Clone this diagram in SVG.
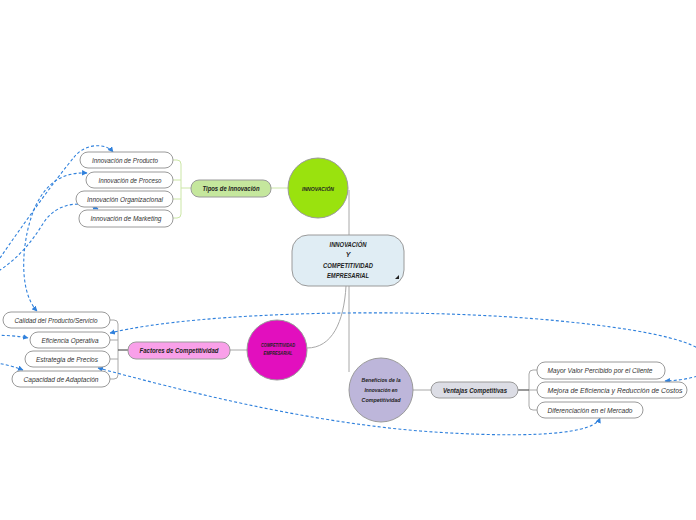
<svg xmlns="http://www.w3.org/2000/svg" width="696" height="520" viewBox="0 0 696 520">
<defs>
<marker id="arr" viewBox="0 0 10 10" refX="9" refY="5" markerWidth="5" markerHeight="5" orient="auto-start-reverse">
<path d="M0,0 L10,5 L0,10 z" fill="#2f80dc"/>
</marker>
<style>
.bg{fill:#ffffff}
.ln{fill:none;stroke:#a8a8a8;stroke-width:1}
.lg{fill:none;stroke:#cbe6a6;stroke-width:1}
.dk{fill:none;stroke:#555555;stroke-width:1.2}
.rel{fill:none;stroke:#2f80dc;stroke-width:1.1;stroke-dasharray:3 2.2;marker-start:url(#arr);marker-end:url(#arr)}
.box{fill:#ffffff;stroke:#9a9a9a;stroke-width:1}
.t{font-family:"Liberation Sans",Arial,sans-serif;font-style:italic;font-size:7px;fill:#333333;text-anchor:middle}
.tb{font-family:"Liberation Sans",Arial,sans-serif;font-style:italic;font-weight:bold;font-size:7px;fill:#222222;text-anchor:middle}
.ts{font-family:"Liberation Sans",Arial,sans-serif;font-style:italic;font-weight:bold;font-size:5px;fill:#222222;text-anchor:middle}
.circ{stroke:#9a9a9a;stroke-width:1}
</style>
</defs>
<rect class="bg" x="0" y="0" width="696" height="520"/>

<g id="connectors">
<path class="ln" d="M349,190 V235"/>
<path class="ln" d="M349,286 V372"/>
<path class="ln" d="M346,286 C344,322 332,348 307,348"/>
<path class="lg" d="M288,188 H271"/>
<path class="ln" d="M247,350 H230"/>
<path class="ln" d="M413,390 H431"/>
<path class="lg" d="M191,188 H181 M173,160 H177 Q181,160 181,164 V214 Q181,218 177,218 H173 M181,180 H173 M181,199 H173"/>
<path class="ln" d="M110,320 H114 Q118,320 118,324 V375 Q118,379 114,379 H110 M118,340 H110 M118,359 H110"/>
<path class="dk" d="M128,350 H118"/>
<path class="ln" d="M537,370 H533 Q529,370 529,374 V406 Q529,410 533,410 H537 M529,390 H537"/>
<path class="dk" d="M518,390 H529"/>
</g>

<g id="relations">
<path class="rel" d="M113,152 C106,143 86,143 75,156 C55,180 22,226 0,258 L-40,316 C-60,345 -10,330 28,338"/>
<path class="rel" d="M87,173 C60,172 46,185 36,205 C22,235 17,290 37,311"/>
<path class="rel" d="M98,209 C80,200 57,203 44,222 C32,242 18,258 0,270 L-40,330 C-60,362 -10,357 23,370"/>
<path class="rel" d="M110,333 C200,311 420,307 560,321 C660,331 700,343 710,358 C718,374 690,380 665,381"/>
<path class="rel" d="M98,368 C180,390 300,421 420,431 C500,437 592,438 600,418"/>
</g>

<g id="main">
<rect x="292" y="235" width="112" height="51" rx="16" fill="#e0edf4" stroke="#9a9a9a"/>
<text class="tb" x="348" y="247" font-size="7.5" textLength="37" lengthAdjust="spacingAndGlyphs">INNOVACIÓN</text>
<text class="tb" x="348" y="257" font-size="7.5">Y</text>
<text class="tb" x="348" y="268" font-size="7.5" textLength="50" lengthAdjust="spacingAndGlyphs">COMPETITIVIDAD</text>
<text class="tb" x="348" y="278" font-size="7.5" textLength="42" lengthAdjust="spacingAndGlyphs">EMPRESARIAL</text>
<polygon points="399,275 399,279 395,279" fill="#222"/>
</g>

<g id="innovacion">
<circle class="circ" cx="318" cy="188" r="30" fill="#9ae20e"/>
<text class="ts" x="318" y="191" textLength="32" lengthAdjust="spacingAndGlyphs">INNOVACIÓN</text>
</g>

<g id="competitividad">
<circle class="circ" cx="277" cy="350" r="30" fill="#e20fbe"/>
<text class="ts" x="278" y="347" textLength="34" lengthAdjust="spacingAndGlyphs">COMPETITIVIDAD</text>
<text class="ts" x="278" y="355" textLength="29" lengthAdjust="spacingAndGlyphs">EMPRESARIAL</text>
</g>

<g id="beneficios">
<circle class="circ" cx="381" cy="390" r="32" fill="#bdb6da"/>
<text class="ts" x="381" y="382" font-size="5.5" textLength="39" lengthAdjust="spacingAndGlyphs">Beneficios de la</text>
<text class="ts" x="381" y="392" font-size="5.5" textLength="33" lengthAdjust="spacingAndGlyphs">Innovación en</text>
<text class="ts" x="381" y="402" font-size="5.5" textLength="39" lengthAdjust="spacingAndGlyphs">Competitividad</text>
</g>

<g id="tipos">
<rect x="191" y="180" width="80" height="17" rx="8" fill="#c5e79d" stroke="#9a9a9a"/>
<text class="tb" x="231" y="191" textLength="57" lengthAdjust="spacingAndGlyphs">Tipos de Innovación</text>
</g>
<g id="producto"><rect class="box" x="80" y="152" width="93" height="16" rx="8"/><text class="t" x="125" y="163" textLength="66" lengthAdjust="spacingAndGlyphs">Innovación de Producto</text></g>
<g id="proceso"><rect class="box" x="86" y="172" width="87" height="16" rx="8"/><text class="t" x="130" y="183" textLength="63" lengthAdjust="spacingAndGlyphs">Innovación de Proceso</text></g>
<g id="organizacional"><rect class="box" x="76" y="191" width="97" height="16" rx="8"/><text class="t" x="125" y="202" textLength="76" lengthAdjust="spacingAndGlyphs">Innovación Organizacional</text></g>
<g id="marketing"><rect class="box" x="79" y="210" width="94" height="17" rx="8"/><text class="t" x="126" y="221" textLength="71" lengthAdjust="spacingAndGlyphs">Innovación de Marketing</text></g>

<g id="factores">
<rect x="128" y="342" width="102" height="17" rx="8" fill="#f9a0e9" stroke="#9a9a9a"/>
<text class="tb" x="179" y="353" textLength="79" lengthAdjust="spacingAndGlyphs">Factores de Competitividad</text>
</g>
<g id="calidad"><rect class="box" x="3" y="312" width="107" height="16" rx="8"/><text class="t" x="56" y="323" textLength="83" lengthAdjust="spacingAndGlyphs">Calidad del Producto/Servicio</text></g>
<g id="eficiencia"><rect class="box" x="30" y="332" width="80" height="16" rx="8"/><text class="t" x="70" y="343" textLength="57" lengthAdjust="spacingAndGlyphs">Eficiencia Operativa</text></g>
<g id="precios"><rect class="box" x="25" y="351" width="85" height="16" rx="8"/><text class="t" x="67" y="362" textLength="62" lengthAdjust="spacingAndGlyphs">Estrategia de Precios</text></g>
<g id="adaptacion"><rect class="box" x="12" y="371" width="98" height="16" rx="8"/><text class="t" x="61" y="382" textLength="75" lengthAdjust="spacingAndGlyphs">Capacidad de Adaptación</text></g>

<g id="ventajas">
<rect x="431" y="382" width="87" height="16" rx="8" fill="#dcdde5" stroke="#9a9a9a"/>
<text class="tb" x="475" y="393" textLength="64" lengthAdjust="spacingAndGlyphs">Ventajas Competitivas</text>
</g>
<g id="mayor"><rect class="box" x="537" y="362" width="128" height="17" rx="8"/><text class="t" x="600" y="373" textLength="105" lengthAdjust="spacingAndGlyphs">Mayor Valor Percibido por el Cliente</text></g>
<g id="mejora"><rect class="box" x="537" y="382" width="150" height="16" rx="8"/><text class="t" x="615" y="393" textLength="135" lengthAdjust="spacingAndGlyphs">Mejora de Eficiencia y Reducción de Costos</text></g>
<g id="diferenciacion"><rect class="box" x="537" y="402" width="106" height="16" rx="8"/><text class="t" x="590" y="413" textLength="85" lengthAdjust="spacingAndGlyphs">Diferenciación en el Mercado</text></g>
</svg>
